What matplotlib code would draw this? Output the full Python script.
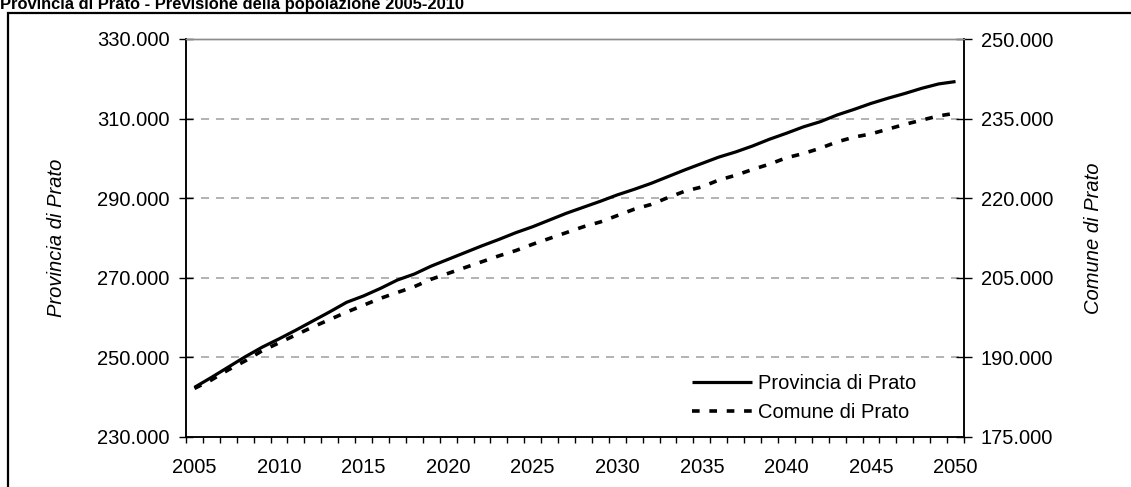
import matplotlib
matplotlib.use("Agg")
import matplotlib.pyplot as plt
from matplotlib.ticker import FixedLocator, FuncFormatter
from matplotlib.patches import Rectangle

plt.rcParams['font.family'] = ['Liberation Sans', 'DejaVu Sans']
plt.rcParams['lines.scale_dashes'] = False

title = "Provincia di Prato - Previsione della popolazione 2005-2010"
years = list(range(2005, 2051))
provincia = [242400, 244900, 247500, 250100, 252500, 254600, 256800, 259100,
             261400, 263800, 265400, 267300, 269400, 270900, 272900, 274600,
             276300, 278000, 279600, 281300, 282800, 284500, 286200, 287700,
             289200, 290800, 292200, 293700, 295400, 297100, 298700, 300300,
             301600, 303100, 304800, 306300, 307900, 309200, 310900, 312300,
             313800, 315100, 316300, 317600, 318700, 319300]
comune = [184100, 185700, 187600, 189300, 191200, 192700, 194200, 195700,
          197100, 198500, 199800, 201100, 202200, 203300, 204700, 205800,
          206900, 208000, 209100, 210100, 211300, 212400, 213500, 214600,
          215500, 216700, 217900, 218800, 220100, 221300, 222100, 223400,
          224300, 225400, 226400, 227600, 228400, 229400, 230600, 231500,
          232100, 233000, 233900, 234700, 235500, 236000]
left_ticks = [230000, 250000, 270000, 290000, 310000, 330000]
right_ticks = [175000, 190000, 205000, 220000, 235000, 250000]
x_labels = [2005, 2010, 2015, 2020, 2025, 2030, 2035, 2040, 2045, 2050]
series_names = ["Provincia di Prato", "Comune di Prato"]

W, H = 1131, 487
fig = plt.figure(figsize=(W / 100, H / 100), dpi=100)
ax = fig.add_axes([186 / W, 1 - 436.7 / H, 778 / W, 397.7 / H])
ax2 = ax.twinx()

def dotted_thousands(v, _):
    return f"{v:,.0f}".replace(",", ".")

fs = 14.5

# left axis: Provincia
ax.set_ylim(left_ticks[0], left_ticks[-1])
ax.yaxis.set_major_locator(FixedLocator(left_ticks))
ax.yaxis.set_major_formatter(FuncFormatter(dotted_thousands))
ax.tick_params(axis='y', direction='inout', length=10, width=1, pad=7,
               labelsize=fs, colors='black')
for v in left_ticks[1:-1]:
    ax.axhline(v, color='#a6a6a6', lw=1.2, linestyle=(0, (5.8, 5.0)), zorder=1)

# right axis: Comune
ax2.set_ylim(right_ticks[0], right_ticks[-1])
ax2.yaxis.set_major_locator(FixedLocator(right_ticks))
ax2.yaxis.set_major_formatter(FuncFormatter(dotted_thousands))
ax2.tick_params(axis='y', direction='inout', length=12, width=1, pad=6,
                labelsize=fs, colors='black')

# category axis: labels at year centers, tick marks between years
ax.set_xlim(years[0] - 0.5, years[-1] + 0.5)
ax.xaxis.set_major_locator(FixedLocator(x_labels))
ax.xaxis.set_minor_locator(FixedLocator([y - 0.5 for y in years] + [years[-1] + 0.5]))
ax.tick_params(axis='x', which='major', length=0, pad=15, labelsize=fs)
ax.tick_params(axis='x', which='minor', direction='out', length=4.5, width=1)

for a in (ax, ax2):
    for s in ('left', 'right', 'bottom'):
        a.spines[s].set_color('black')
        a.spines[s].set_linewidth(1.1)
    a.spines['top'].set_color('#8c8c8c')
    a.spines['top'].set_linewidth(1.0)

l1, = ax.plot(years, provincia, color='black', lw=2.3, solid_capstyle='butt',
              solid_joinstyle='round', zorder=3)
l2, = ax2.plot(years, comune, color='black', lw=2.6,
               linestyle=(0, (5.5, 7.0)), dash_capstyle='butt', zorder=3)

ax.set_ylabel(series_names[0], fontsize=fs, style='italic', labelpad=0)
ax.yaxis.set_label_coords((66 - 186) / 778, 0.5)
ax2.set_ylabel(series_names[1], fontsize=fs, style='italic', rotation=90, labelpad=0)
ax2.yaxis.set_label_coords((1084 - 186) / 778, 0.5)

leg = ax2.legend([l1, l2], series_names, loc='center left',
                 bbox_to_anchor=((692 - 186) / 778, (436.7 - 398) / 397.7),
                 frameon=False, fontsize=fs, handlelength=3.0, handletextpad=0.3,
                 labelspacing=0.5, borderpad=0, borderaxespad=0)

fig.text(0, 1 - 9 / H, title, fontsize=11.9, fontweight='bold', ha='left', va='baseline')

fig.patches.append(Rectangle((8 / W, -0.05), 1.2, 1 - 13 / H + 0.05,
                             transform=fig.transFigure, fill=False,
                             edgecolor='black', linewidth=1.6, zorder=0))

fig.savefig("out.png", dpi=100)
